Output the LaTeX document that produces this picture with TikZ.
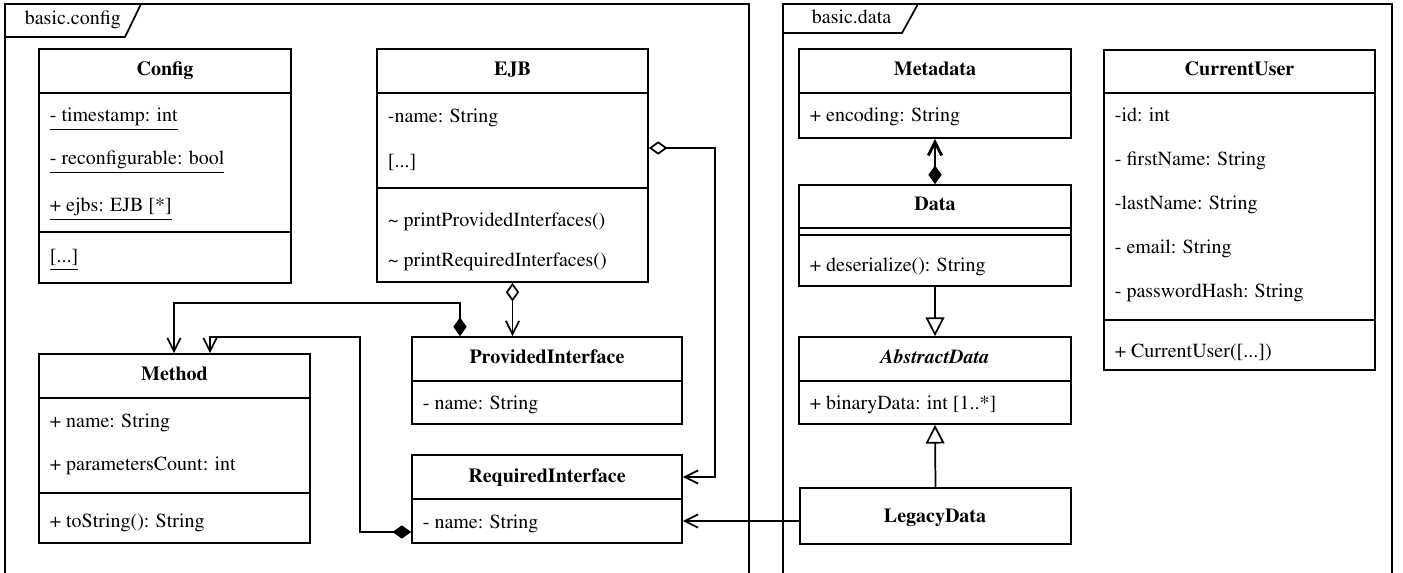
\documentclass[tikz,border=0pt]{standalone}
\usepackage[T1]{fontenc}
\usepackage{mathptmx}
\usetikzlibrary{arrows.meta,fit}

\tikzset{every picture/.style={line width=1.3pt}}
\tikzset{
  umlclass/.style={draw, rectangle, inner sep=0pt},
  ctitle/.style={font=\fontsize{15}{18}\selectfont\bfseries, inner sep=0pt, text height=10.5pt, text depth=3pt},
  attr/.style={font=\fontsize{15}{18}\selectfont, anchor=west, inner sep=0pt, text height=10.5pt, text depth=3pt},
  navi/.style={-{Straight Barb[length=10pt,width=10pt]}},
  shared/.style={{Diamond[open,length=14pt,width=10pt]}-{Straight Barb[length=10pt,width=10pt]}},
  composed/.style={{Diamond[length=14pt,width=10pt]}-{Straight Barb[length=10pt,width=10pt]}},
  inherits/.style={-{Triangle[open,length=14pt,width=14pt]}}
}

\begin{document}
\begin{tikzpicture}[x=0.75pt,y=0.75pt,yscale=-1,xscale=1]
	\useasboundingbox (0,0) rectangle (1403,573);

	%Package: basic.config
	\draw (5,573) -- (5,4) -- (749,4) -- (749,573) ;
	\draw (5,37) -- (125,37) -- (141,4) ;
	\node[attr] (pkgconfig) at (24,20) {basic.config};

	%Package: basic.data
	\draw (783,573) -- (783,4) -- (1392,4) -- (1392,573) ;
	\draw (783,33) -- (902,33) -- (918,4) ;
	\node[attr] (pkgdata) at (811,19) {basic.data};

	%Class: Config
	\node[umlclass, fit={(39,49) (291,283)}] (config) {};
	\draw (39,93) -- (291,93) ;
	\draw (39,232) -- (291,232) ;
	\node[ctitle] (configname) at (165,71) {Config};
	\node[attr] (configts) at (49,117) {\underline{- timestamp: int}};
	\node[attr] (configrc) at (49,160) {\underline{- reconfigurable: bool}};
	\node[attr] (configejbs) at (49,207) {\underline{+ ejbs: EJB [*]}};
	\node[attr] (configops) at (49,258) {\underline{[...]}};

	%Class: EJB
	\node[umlclass, fit={(377,49) (648,282)}] (ejb) {};
	\draw (377,93) -- (648,93) ;
	\draw (377,188) -- (648,188) ;
	\node[ctitle] (ejbname) at (512.5,71) {EJB};
	\node[attr] (ejbattr) at (387,118) {-name: String};
	\node[attr] (ejbmore) at (387,163) {[...]};
	\node[attr] (ejbprov) at (387,222) {\textasciitilde{} printProvidedInterfaces()};
	\node[attr] (ejbreq) at (387,262) {\textasciitilde{} printRequiredInterfaces()};

	%Class: Method
	\node[umlclass, fit={(39,354) (310,543)}] (method) {};
	\draw (39,398) -- (310,398) ;
	\draw (39,493) -- (310,493) ;
	\node[ctitle] (methodname) at (174.5,376) {Method};
	\node[attr] (methodattr) at (49,422) {+ name: String};
	\node[attr] (methodcount) at (49,465) {+ parametersCount: int};
	\node[attr] (methodop) at (49,522) {+ toString(): String};

	%Class: ProvidedInterface
	\node[umlclass, fit={(412,337) (682,424)}] (provi) {};
	\draw (412,381) -- (682,381) ;
	\node[ctitle] (proviname) at (547,359) {ProvidedInterface};
	\node[attr] (proviattr) at (422,405) {- name: String};

	%Class: RequiredInterface
	\node[umlclass, fit={(412,455) (682,543)}] (reqi) {};
	\draw (412,499) -- (682,499) ;
	\node[ctitle] (reqiname) at (547,477) {RequiredInterface};
	\node[attr] (reqiattr) at (422,523) {- name: String};

	%Class: Metadata
	\node[umlclass, fit={(799,49) (1071,138)}] (meta) {};
	\draw (799,93) -- (1071,93) ;
	\node[ctitle] (metaname) at (935,71) {Metadata};
	\node[attr] (metaattr) at (809,117) {+ encoding: String};

	%Class: Data
	\node[umlclass, fit={(799,185) (1071,286)}] (data) {};
	\draw (799,228) -- (1071,228) ;
	\draw (799,235) -- (1071,235) ;
	\node[ctitle] (dataname) at (935,206) {Data};
	\node[attr] (dataop) at (809,267) {+ deserialize(): String};

	%Class: AbstractData
	\node[umlclass, fit={(799,337) (1071,424)}] (abstr) {};
	\draw (799,381) -- (1071,381) ;
	\node[ctitle, font=\fontsize{15}{18}\selectfont\bfseries\itshape] (abstrname) at (935,359) {AbstractData};
	\node[attr] (abstrattr) at (809,405) {+ binaryData: int [1..*]};

	%Class: LegacyData
	\node[umlclass, fit={(800,488) (1071,544)}] (legacy) {};
	\node[ctitle] (legacyname) at (935,517) {LegacyData};

	%Class: CurrentUser
	\node[umlclass, fit={(1104,50) (1375,370)}] (user) {};
	\draw (1104,93) -- (1375,93) ;
	\draw (1104,320) -- (1375,320) ;
	\node[ctitle] (username) at (1239.5,71) {CurrentUser};
	\node[attr] (userid) at (1114,117) {-id: int};
	\node[attr] (userfirst) at (1114,161) {- firstName: String};
	\node[attr] (userlast) at (1114,205) {-lastName: String};
	\node[attr] (usermail) at (1114,249) {- email: String};
	\node[attr] (userhash) at (1114,293) {- passwordHash: String};
	\node[attr] (userop) at (1114,353) {+ CurrentUser([...])};

	%Associations
	\draw[shared] (ejb.east |- 0,148) -| (715,477) -- (reqi.east |- 0,477) ;
	\draw[shared] (ejb.south) -- (ejb.south |- provi.north) ;
	\draw[composed] (provi.north -| 460,0) |- (174,303) -- (method.north -| 174,0) ;
	\draw[composed] (reqi.west |- 0,532) -- (360,532) |- (210,337) -- (method.north -| 210,0) ;
	\draw[navi] (legacy.west |- 0,521) -- (reqi.east |- 0,521) ;
	\draw[composed, line width=2.2pt] (data.north) -- (meta.south) ;

	%Generalizations
	\draw[inherits] (data.south) -- (abstr.north) ;
	\draw[inherits] (legacy.north) -- (abstr.south) ;

\end{tikzpicture}
\end{document}
